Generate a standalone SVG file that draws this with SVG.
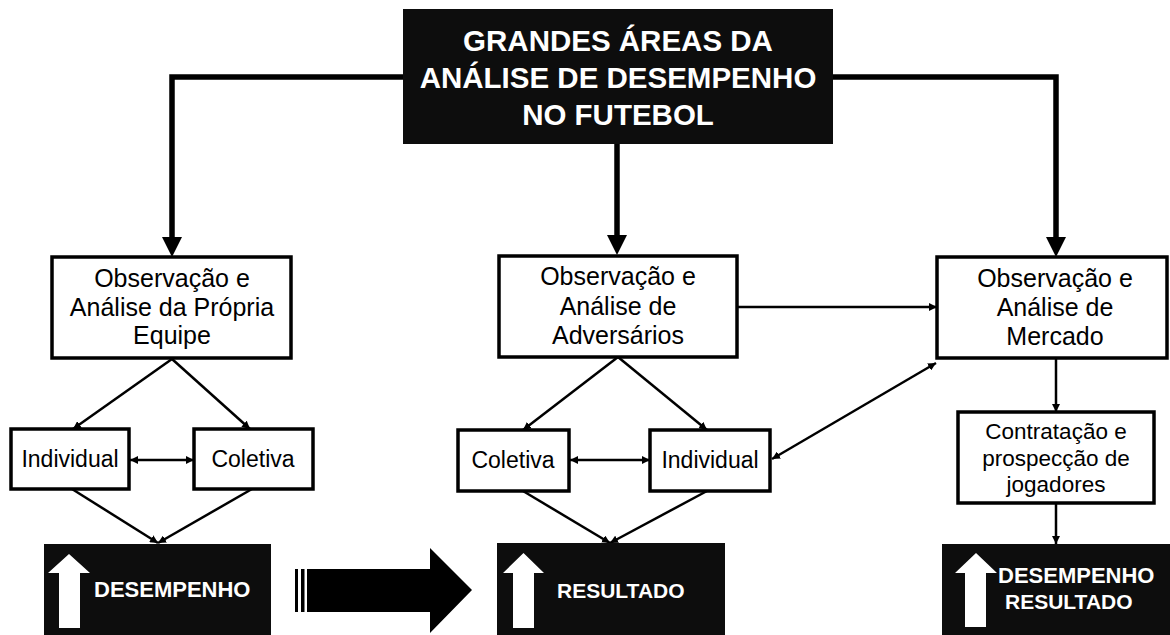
<svg xmlns="http://www.w3.org/2000/svg" width="1170" height="635" viewBox="0 0 1170 635">
<defs>
<style>
.box{fill:#fff;stroke:#000;stroke-width:3.5}
.blk{fill:#0d0d0d}
.t{font-family:"Liberation Sans",Arial,sans-serif;fill:#000;text-anchor:middle}
.m{font-size:25px}
.s{font-size:23px}
.w{font-family:"Liberation Sans",Arial,sans-serif;fill:#fff;font-weight:bold}
.thick{fill:none;stroke:#000;stroke-width:5.5}
.thin{fill:none;stroke:#000;stroke-width:2.5}
</style>
<marker id="hd" viewBox="0 0 10 10" refX="10" refY="5" markerWidth="8" markerHeight="8" markerUnits="userSpaceOnUse" orient="auto-start-reverse">
<path d="M0,0 L10,5 L0,10 z" fill="#000"/>
</marker>
</defs>

<g id="connectors">
<polyline class="thick" points="403,77 172,77 172,238"/>
<polygon points="162,237 182,237 172,257"/>
<line class="thick" x1="617" y1="144" x2="617" y2="236"/>
<polygon points="607,235 627,235 617,255"/>
<polyline class="thick" points="833,77 1056,77 1056,238"/>
<polygon points="1046,237 1066,237 1056,257"/>

<line class="thin" x1="172" y1="359" x2="73" y2="429" marker-end="url(#hd)"/>
<line class="thin" x1="172" y1="359" x2="250" y2="429" marker-end="url(#hd)"/>
<line class="thin" x1="130" y1="460" x2="194" y2="460" marker-start="url(#hd)" marker-end="url(#hd)"/>
<line class="thin" x1="72" y1="489" x2="158" y2="543" marker-end="url(#hd)"/>
<line class="thin" x1="252" y1="489" x2="158" y2="543" marker-end="url(#hd)"/>

<line class="thin" x1="618" y1="357" x2="523" y2="430" marker-end="url(#hd)"/>
<line class="thin" x1="618" y1="357" x2="707" y2="430" marker-end="url(#hd)"/>
<line class="thin" x1="570" y1="460" x2="650" y2="460" marker-start="url(#hd)" marker-end="url(#hd)"/>
<line class="thin" x1="523" y1="491" x2="610" y2="543" marker-end="url(#hd)"/>
<line class="thin" x1="707" y1="491" x2="610" y2="543" marker-end="url(#hd)"/>

<line class="thin" x1="737" y1="307" x2="937" y2="307" marker-end="url(#hd)"/>
<line class="thin" x1="772" y1="459" x2="936" y2="363" marker-start="url(#hd)" marker-end="url(#hd)"/>
<line class="thin" x1="1056" y1="358" x2="1056" y2="412" marker-end="url(#hd)"/>
<line class="thin" x1="1056" y1="503" x2="1056" y2="544" marker-end="url(#hd)"/>

<g id="big-arrow">
<rect x="295" y="569" width="3" height="43" fill="#000"/>
<rect x="301" y="569" width="3.5" height="43" fill="#000"/>
<polygon points="307,569 430,569 430,548 472,590 430,633 430,612 307,612" fill="#000"/>
</g>
</g>

<g id="title">
<rect class="blk" x="403" y="9" width="430" height="135"/>
<text class="w" x="618" y="51" font-size="29.5" text-anchor="middle">GRANDES ÁREAS DA</text>
<text class="w" x="618" y="88" font-size="29.5" text-anchor="middle">ANÁLISE DE DESEMPENHO</text>
<text class="w" x="618" y="125" font-size="29.5" text-anchor="middle">NO FUTEBOL</text>
</g>

<g id="own-team">
<rect class="box" x="52" y="257" width="239" height="101"/>
<text class="t m" x="172" y="287">Observação e</text>
<text class="t m" x="172" y="316">Análise da Própria</text>
<text class="t m" x="172" y="344">Equipe</text>
</g>

<g id="opponents">
<rect class="box" x="499" y="256" width="238" height="101"/>
<text class="t m" x="618" y="285">Observação e</text>
<text class="t m" x="618" y="315">Análise de</text>
<text class="t m" x="618" y="344">Adversários</text>
</g>

<g id="market">
<rect class="box" x="937" y="257" width="230" height="101"/>
<text class="t m" x="1055" y="287">Observação e</text>
<text class="t m" x="1055" y="316">Análise de</text>
<text class="t m" x="1055" y="345">Mercado</text>
</g>

<g id="individual-1">
<rect class="box" x="11" y="429" width="118" height="60"/>
<text class="t s" x="70" y="467">Individual</text>
</g>
<g id="coletiva-1">
<rect class="box" x="194" y="429" width="119" height="60"/>
<text class="t s" x="253" y="467">Coletiva</text>
</g>
<g id="coletiva-2">
<rect class="box" x="458" y="430" width="111" height="61"/>
<text class="t s" x="513" y="468">Coletiva</text>
</g>
<g id="individual-2">
<rect class="box" x="650" y="430" width="120" height="61"/>
<text class="t s" x="710" y="468">Individual</text>
</g>

<g id="contratacao">
<rect class="box" x="958" y="412" width="196" height="91"/>
<text class="t" font-size="22.5" x="1056" y="439">Contratação e</text>
<text class="t" font-size="22.5" x="1056" y="466">prospecção de</text>
<text class="t" font-size="22.5" x="1056" y="492">jogadores</text>
</g>

<g id="desempenho">
<rect class="blk" x="44" y="544" width="227" height="91"/>
<polygon points="69,554 90,573 80,573 80,628 59,628 59,573 48,573" fill="#fff"/>
<text class="w" x="94" y="597" font-size="22">DESEMPENHO</text>
</g>

<g id="resultado">
<rect class="blk" x="497" y="543" width="228" height="92"/>
<polygon points="523.5,553 544,573 534,573 534,628 513,628 513,573 503,573" fill="#fff"/>
<text class="w" x="557" y="598" font-size="21">RESULTADO</text>
</g>

<g id="desempenho-resultado">
<rect class="blk" x="942" y="544" width="228" height="91"/>
<polygon points="976,553 997,573 986,573 986,627 965,627 965,573 955,573" fill="#fff"/>
<text class="w" x="998" y="583" font-size="22">DESEMPENHO</text>
<text class="w" x="1005" y="609" font-size="21">RESULTADO</text>
</g>
</svg>
